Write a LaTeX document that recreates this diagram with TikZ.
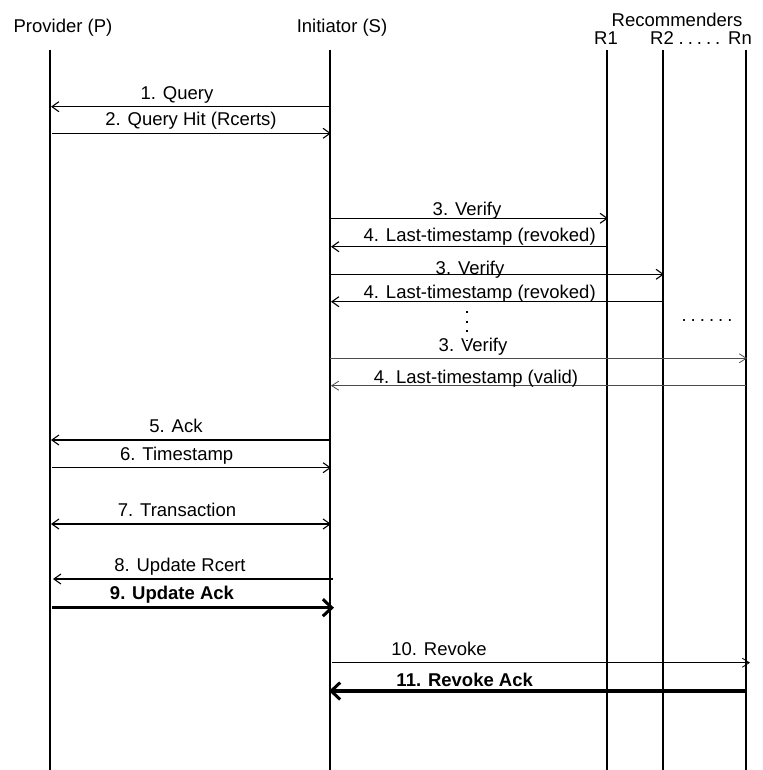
\documentclass[tikz,border=0pt]{standalone}
\usepackage{fontspec}
\setmainfont{Liberation Sans}
\usetikzlibrary{arrows.meta}
\begin{document}
\begin{tikzpicture}[x=1pt,y=-1pt,
  font=\fontsize{18.5}{22}\selectfont,
  lifeline/.style={line width=1.3pt},
  barb/.tip={Straight Barb[length=7pt,width=10pt,line width=1.1pt]},
  msg/.style={line width=1.1pt,-barb},
  bothmsg/.style={line width=1.1pt,barb-barb},
  thinmsg/.style={line width=0.8pt,draw=black!70,-{Straight Barb[length=7pt,width=9pt,line width=0.8pt]}},
  boldmsg/.style={line width=3.5pt,-{Straight Barb[length=9pt,width=17pt,line width=3pt]}},
  lbl/.style={anchor=base,inner sep=0pt},
  boldlbl/.style={anchor=base,inner sep=0pt,font=\fontsize{18.5}{22}\selectfont\bfseries},
  dotsline/.style={line width=2pt,dash pattern=on 2pt off 7.5pt}]
\useasboundingbox (0,0) rectangle (762,770);

% participants
\node[lbl] (hp) at (63,33) {Provider (P)};
\node[lbl] (hs) at (342,33) {Initiator (S)};
\node[lbl] (hr) at (677,26.7) {Recommenders};
\node[lbl] (hr1) at (606,45) {R1};
\node[lbl] (hr2) at (662,45) {R2};
\node[lbl] (hrd) at (699.5,45) {.\hspace{4pt}.\hspace{4pt}.\hspace{4pt}.\hspace{4pt}.};
\node[lbl] (hrn) at (740,45) {Rn};

% lifelines
\coordinate (P0) at (50,50);  \coordinate (P1) at (50,770);
\coordinate (S0) at (330,50); \coordinate (S1) at (330,770);
\coordinate (A0) at (607,50); \coordinate (A1) at (607,770);
\coordinate (B0) at (663,50); \coordinate (B1) at (663,770);
\coordinate (N0) at (746,50); \coordinate (N1) at (746,770);
\foreach \a/\b in {P0/P1,S0/S1,A0/A1,B0/B1,N0/N1}
  \draw[lifeline] (\a) -- (\b);

% message end points
\coordinate (m1s) at (330,106.7); \coordinate (m1e) at (51,106.7);
\coordinate (m2s) at (52,133.3);  \coordinate (m2e) at (331,133.3);
\coordinate (m3s) at (330,218.3); \coordinate (m3e) at (608,218.3);
\coordinate (m4s) at (607,246.7); \coordinate (m4e) at (331,246.7);
\coordinate (m5s) at (330,274.3); \coordinate (m5e) at (664,274.3);
\coordinate (m6s) at (663,301.7); \coordinate (m6e) at (331,301.7);
\coordinate (m7s) at (330,358.3); \coordinate (m7e) at (747,358.3);
\coordinate (m8s) at (746,385.7); \coordinate (m8e) at (331,385.7);
\coordinate (m9s) at (330,440);   \coordinate (m9e) at (51,440);
\coordinate (m10s) at (52,467.7); \coordinate (m10e) at (331,467.7);
\coordinate (m11s) at (51,524);   \coordinate (m11e) at (331,524);
\coordinate (m12s) at (333,579);  \coordinate (m12e) at (53,579);
\coordinate (m13s) at (52,607.7); \coordinate (m13e) at (334,607.7);
\coordinate (m14s) at (332,662.7); \coordinate (m14e) at (750,662.7);
\coordinate (m15s) at (746,691);  \coordinate (m15e) at (329,691);

% messages
\draw[msg] (m1s) -- (m1e);
\node[lbl] (l1) at (177,100) {1. Query};
\draw[msg] (m2s) -- (m2e);
\node[lbl] (l2) at (191,126) {2. Query Hit (Rcerts)};

\draw[msg] (m3s) -- (m3e);
\node[lbl] (l3) at (467,215) {3. Verify};
\draw[msg] (m4s) -- (m4e);
\node[lbl] (l4) at (479.7,241.6) {4. Last-timestamp (revoked)};
\draw[msg] (m5s) -- (m5e);
\node[lbl] (l5) at (470,274) {3. Verify};
\draw[msg] (m6s) -- (m6e);
\node[lbl] (l6) at (479.7,298.3) {4. Last-timestamp (revoked)};

\coordinate (v0) at (467,311);
\coordinate (v1) at (467,340);
\draw[dotsline] (v0) -- (v1);
\node[lbl] (hdots) at (707,321) {.\hspace{4pt}.\hspace{4pt}.\hspace{4pt}.\hspace{4pt}.\hspace{4pt}.};

\draw[thinmsg] (m7s) -- (m7e);
\node[lbl] (l7) at (473,351.7) {3. Verify};
\draw[thinmsg] (m8s) -- (m8e);
\node[lbl] (l8) at (476,383.3) {4. Last-timestamp (valid)};

\draw[msg] (m9s) -- (m9e);
\node[lbl] (l9) at (176,432.6) {5. Ack};
\draw[msg] (m10s) -- (m10e);
\node[lbl] (l10) at (176.7,460) {6. Timestamp};
\draw[bothmsg] (m11s) -- (m11e);
\node[lbl] (l11) at (177,516) {7. Transaction};
\draw[msg] (m12s) -- (m12e);
\node[lbl] (l12) at (180,571.6) {8. Update Rcert};
\draw[boldmsg] (m13s) -- (m13e);
\node[boldlbl] (l13) at (172,599.3) {9. Update Ack};

\draw[thinmsg,draw=black] (m14s) -- (m14e);
\node[lbl] (l14) at (439,655) {10. Revoke};
\draw[boldmsg] (m15s) -- (m15e);
\node[boldlbl] (l15) at (464.7,686.7) {11. Revoke Ack};
\end{tikzpicture}
\end{document}
